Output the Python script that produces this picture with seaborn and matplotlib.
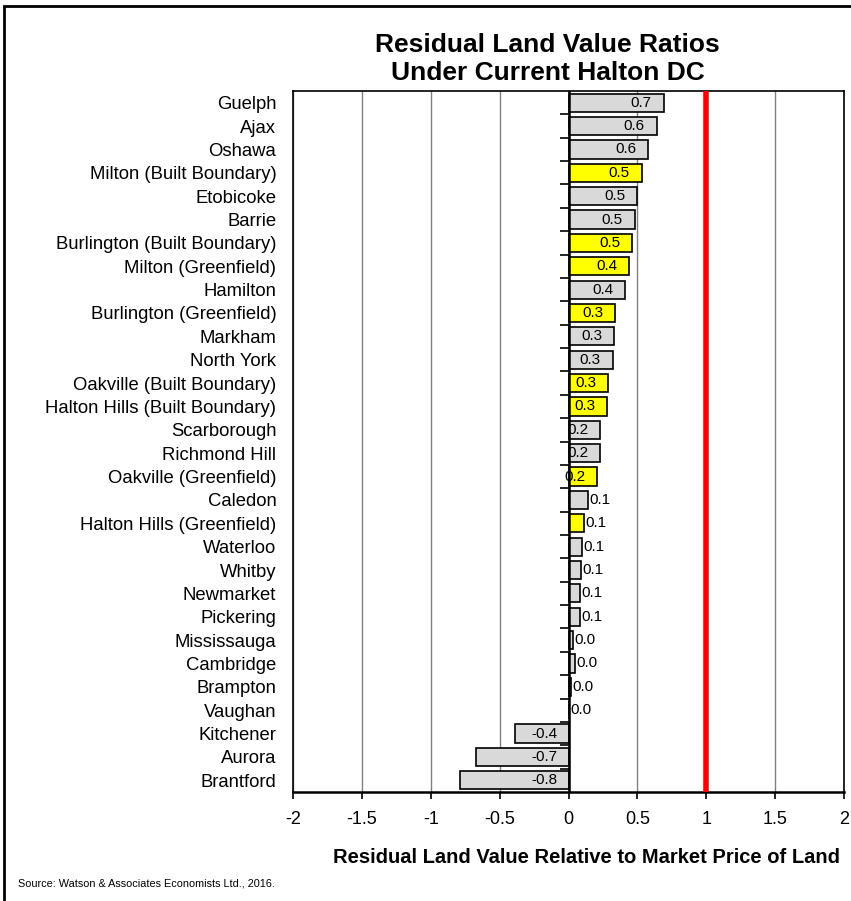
import matplotlib
matplotlib.use("Agg")
import matplotlib.pyplot as plt
import seaborn as sns
import pandas as pd
from matplotlib.patches import Rectangle

# --- data ---
places = [
    "Guelph", "Ajax", "Oshawa", "Milton (Built Boundary)", "Etobicoke", "Barrie",
    "Burlington (Built Boundary)", "Milton (Greenfield)", "Hamilton",
    "Burlington (Greenfield)", "Markham", "North York", "Oakville (Built Boundary)",
    "Halton Hills (Built Boundary)", "Scarborough", "Richmond Hill",
    "Oakville (Greenfield)", "Caledon", "Halton Hills (Greenfield)", "Waterloo",
    "Whitby", "Newmarket", "Pickering", "Mississauga", "Cambridge", "Brampton",
    "Vaughan", "Kitchener", "Aurora", "Brantford",
]
ratios = [
    0.69, 0.64, 0.58, 0.53, 0.50, 0.48,
    0.46, 0.44, 0.41,
    0.34, 0.33, 0.32, 0.29,
    0.28, 0.23, 0.23,
    0.21, 0.14, 0.11, 0.10,
    0.09, 0.08, 0.08, 0.035, 0.048, 0.015,
    0.005, -0.39, -0.67, -0.79,
]
halton = [
    False, False, False, True, False, False,
    True, True, False,
    True, False, False, True,
    True, False, False,
    True, False, True, False,
    False, False, False, False, False, False,
    False, False, False, False,
]
xticks = [-2, -1.5, -1, -0.5, 0, 0.5, 1, 1.5, 2]
market_price = 1.0

df = pd.DataFrame({"place": places, "ratio": ratios,
                   "group": ["Halton" if h else "Other" for h in halton]})

plt.rcParams["font.family"] = ["Liberation Sans", "DejaVu Sans"]

fig = plt.figure(figsize=(8.51, 9.01), dpi=100)
ax = fig.add_axes([293 / 851, 1 - 792 / 901, (844 - 293) / 851, (792 - 91) / 901])

# outer frame
fig.patches.append(Rectangle((4 / 851, -0.05), 1.1, 1 - 6 / 901 + 0.05,
                             transform=fig.transFigure, fill=False,
                             edgecolor="black", linewidth=2))

sns.barplot(data=df, x="ratio", y="place", hue="group",
            palette={"Halton": "#FFFF00", "Other": "#D9D9D9"}, saturation=1,
            dodge=False, legend=False, width=0.78,
            edgecolor="black", linewidth=1.2, ax=ax, zorder=3)

ax.set_xlim(-2, 2)
ax.set_ylim(len(places) - 0.5, -0.5)
ax.set_xticks(xticks)
ax.set_xticklabels([f"{t:g}" for t in xticks], fontsize=13)
ax.grid(axis="x", color="#808080", linewidth=1, zorder=0)
ax.set_axisbelow(True)

# category axis sits at x = 0
ax.axvline(0, color="black", linewidth=1.8, zorder=4)
ax.hlines([i + 0.5 for i in range(len(places) - 1)], -0.06, 0,
          color="black", linewidth=1.2, zorder=4)
ax.axvline(market_price, color="#FF0000", linewidth=4, zorder=5)

ax.tick_params(axis="y", length=0, labelsize=13.3, pad=12)
ax.tick_params(axis="x", length=5, width=1.2, direction="out", pad=9)
ax.set_ylabel("")
for s in ax.spines.values():
    s.set_color("black")
    s.set_linewidth(1.2)
ax.spines["bottom"].set_linewidth(1.8)

# value labels
for i, v in enumerate(ratios):
    txt = f"{v:.1f}"
    if v >= 0.2:
        ax.text(v - 0.085, i, txt, ha="right", va="center", fontsize=11, zorder=6)
    elif v >= 0:
        ax.text(v + 0.01, i, txt, ha="left", va="center", fontsize=11, zorder=6)
    else:
        ax.text(-0.08, i, txt, ha="right", va="center", fontsize=11, zorder=6)

ax.set_title("Residual Land Value Ratios\nUnder Current Halton DC",
             fontsize=19, fontweight="bold", x=0.462, pad=8, linespacing=1.18)
ax.set_xlabel("Residual Land Value Relative to Market Price of Land",
              fontsize=14.5, fontweight="bold", ha="left")
ax.xaxis.set_label_coords((333 - 293) / (844 - 293), -0.080)

fig.text(18 / 851, 1 - 884 / 901, "Source: Watson & Associates Economists Ltd., 2016.",
         fontsize=7.8, va="center")

fig.savefig("out.png", dpi=100)
